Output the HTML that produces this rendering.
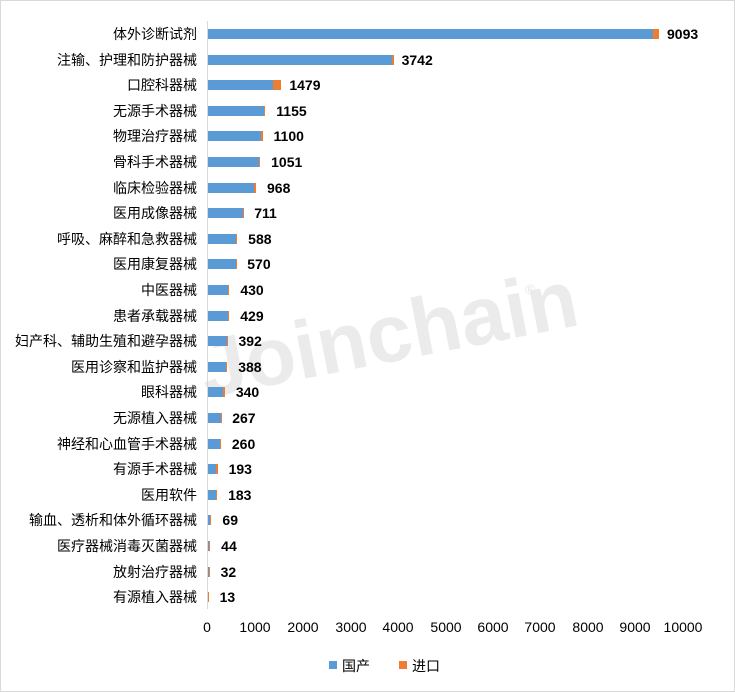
<!DOCTYPE html><html><head><meta charset="utf-8"><style>
body{margin:0;background:#fff}
#c{position:relative;width:733px;height:690px;border:1px solid #d9d9d9;overflow:hidden;font-family:"Liberation Sans","Noto Sans CJK SC",sans-serif}
.l{position:absolute;right:537px;font-size:14px;color:#000;white-space:nowrap;line-height:16px}
.b{position:absolute;height:10px}
.v{position:absolute;font-size:14px;font-weight:bold;line-height:16px}
.t{position:absolute;top:618px;font-size:14px;width:60px;text-align:center;margin-left:-30px}
</style></head><body><div id="c">
<div style="position:absolute;left:192px;top:330px;font-size:82px;font-weight:bold;color:#ebebeb;transform:rotate(-11deg);transform-origin:left top;white-space:nowrap;line-height:82px">Joinchain</div>
<div style="position:absolute;left:524px;top:280px;font-size:14px;color:#e6e6e6">®</div>
<div style="position:absolute;left:206px;top:20px;width:1px;height:588px;background:#d9d9d9"></div>
<div id="rows"></div>
<div class="t" style="left:206px">0</div><div class="t" style="left:254px">1000</div><div class="t" style="left:302px">2000</div><div class="t" style="left:350px">3000</div><div class="t" style="left:397px">4000</div><div class="t" style="left:445px">5000</div><div class="t" style="left:492px">6000</div><div class="t" style="left:539px">7000</div><div class="t" style="left:587px">8000</div><div class="t" style="left:634px">9000</div><div class="t" style="left:682px">10000</div>
<div style="position:absolute;left:328px;top:660px;width:8px;height:8px;background:#5b9bd5"></div>
<div style="position:absolute;left:341px;top:655px;font-size:14px">国产</div>
<div style="position:absolute;left:398px;top:660px;width:8px;height:8px;background:#ed7d31"></div>
<div style="position:absolute;left:411px;top:655px;font-size:14px">进口</div>
</div>
<script>
var d=[["体外诊断试剂",9093,120],["注输、护理和防护器械",3742,40],["口腔科器械",1479,160],["无源手术器械",1155,20],["物理治疗器械",1100,30],["骨科手术器械",1051,25],["临床检验器械",968,40],["医用成像器械",711,10],["呼吸、麻醉和急救器械",588,20],["医用康复器械",570,15],["中医器械",430,30],["患者承载器械",429,20],["妇产科、辅助生殖和避孕器械",392,15],["医用诊察和监护器械",388,20],["眼科器械",340,30],["无源植入器械",267,10],["神经和心血管手术器械",260,10],["有源手术器械",193,25],["医用软件",183,20],["输血、透析和体外循环器械",69,35],["医疗器械消毒灭菌器械",44,15],["放射治疗器械",32,8],["有源植入器械",13,13]];
var h="",s=0.0496;
d.forEach(function(r,i){var y=33+i*25.6;var w=r[1]*s,o=r[2]*s,dw=w-o;
h+='<div class="l" style="top:'+(y-8)+'px">'+r[0]+'</div>';
h+='<div class="b" style="left:207px;top:'+(y-5)+'px;width:'+dw+'px;background:#5b9bd5"></div>';
h+='<div class="b" style="left:'+(207+dw)+'px;top:'+(y-5)+'px;width:'+Math.max(o,1)+'px;background:#ed7d31"></div>';
h+='<div class="v" style="left:'+(207+w+(i<3?8:11))+'px;top:'+(y-8)+'px">'+r[1]+'</div>';});
document.getElementById("rows").innerHTML=h;
</script></body></html>
